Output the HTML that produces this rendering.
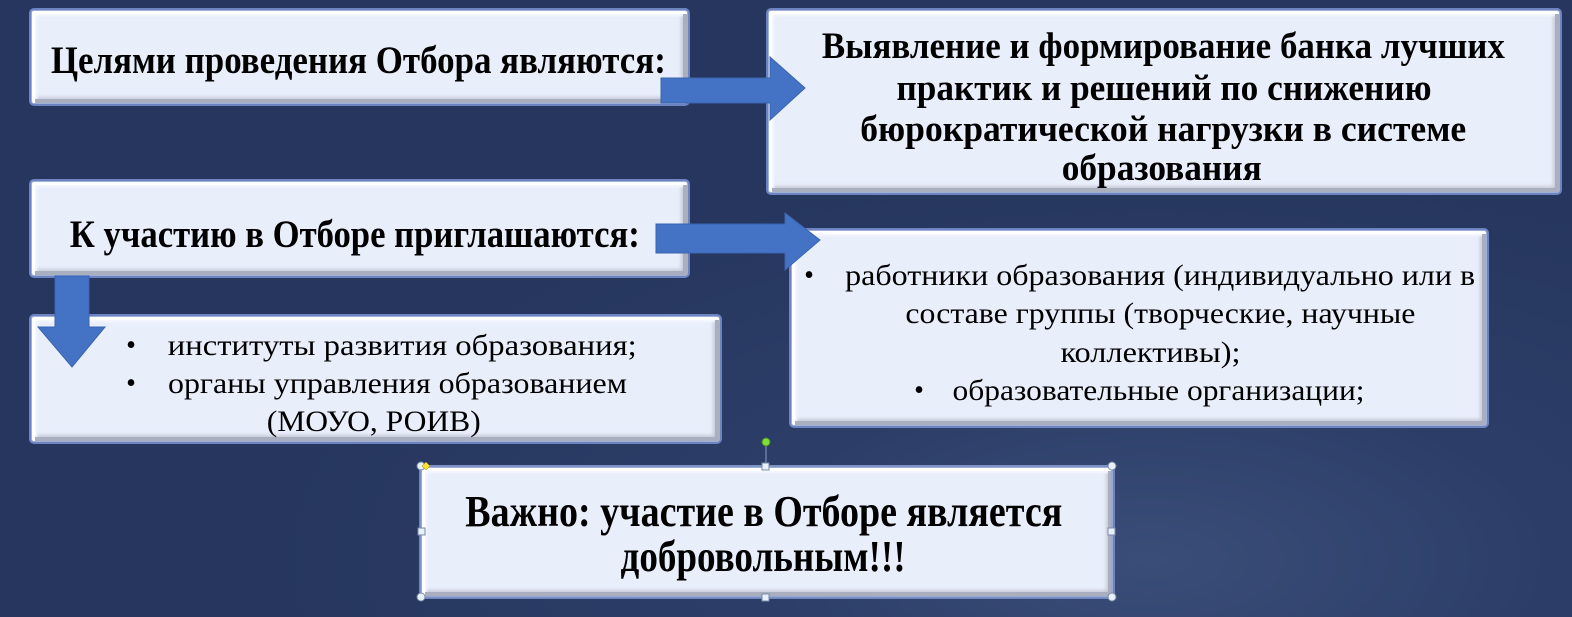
<!DOCTYPE html>
<html><head><meta charset="utf-8"><style>
html,body{margin:0;padding:0}
body{width:1572px;height:617px;position:relative;overflow:hidden;
background:radial-gradient(ellipse 900px 400px at 1150px 560px,#3a4d78 0%,#2c3e68 45%,#26365e 100%);
font-family:"Liberation Serif","DejaVu Serif",serif;color:#000}
.box{position:absolute;box-sizing:border-box;background:#e9eefb;
border:1px solid #9fb0d8;border-radius:3px;
box-shadow:inset 3px 3px 0 #fff,inset -4px -4px 0 #a9afbf,inset 5px 5px 2px #f4f7ff,inset -6px -6px 3px #c8ccd8,0 0 0 2px #6d84c0}
.t{position:absolute;white-space:nowrap;line-height:1;transform-origin:center center}
.b{font-weight:bold}
svg{position:absolute;left:0;top:0}
</style></head><body>
<div class="box" style="left:31px;top:10px;width:657px;height:94px"></div>
<div class="box" style="left:768px;top:10px;width:792px;height:183px"></div>
<div class="box" style="left:31px;top:181px;width:657px;height:95px"></div>
<div class="box" style="left:791px;top:230px;width:696px;height:196px"></div>
<div class="box" style="left:31px;top:316px;width:689px;height:126px"></div>
<div class="box" style="left:421px;top:467px;width:692px;height:130px"></div>

<div class="t b" data-cx="358" data-cy="60" data-w="615" style="font-size:39px">Целями проведения Отбора являются:</div>
<div class="t b" data-cx="1163" data-cy="46" data-w="683" style="font-size:37px">Выявление и формирование банка лучших</div>
<div class="t b" data-cx="1164" data-cy="88" data-w="535" style="font-size:37px">практик и решений по снижению</div>
<div class="t b" data-cx="1163" data-cy="129" data-w="606" style="font-size:37px">бюрократической нагрузки в системе</div>
<div class="t b" data-cx="1162" data-cy="168" data-w="200" style="font-size:37px">образования</div>
<div class="t b" data-cx="355" data-cy="234" data-w="570" style="font-size:39px">К участию в Отборе приглашаются:</div>

<div class="t" data-cx="809" data-cy="276" style="font-size:28px">•</div>
<div class="t" data-cx="1160" data-cy="276" data-w="630" style="font-size:30px">работники образования (индивидуально или в</div>
<div class="t" data-cx="1160" data-cy="314" data-w="510" style="font-size:30px">составе группы (творческие, научные</div>
<div class="t" data-cx="1150" data-cy="353" data-w="180" style="font-size:30px">коллективы);</div>
<div class="t" data-cx="919" data-cy="391" style="font-size:28px">•</div>
<div class="t" data-cx="1159" data-cy="391" data-w="412" style="font-size:30px">образовательные организации;</div>

<div class="t" data-cx="131" data-cy="346" style="font-size:28px">•</div>
<div class="t" data-cx="402" data-cy="346" data-w="469" style="font-size:30px">институты развития образования;</div>
<div class="t" data-cx="131" data-cy="384" style="font-size:28px">•</div>
<div class="t" data-cx="397" data-cy="384" data-w="459" style="font-size:30px">органы управления образованием</div>
<div class="t" data-cx="374" data-cy="422" data-w="214" style="font-size:30px">(МОУО, РОИВ)</div>

<div class="t b" data-cx="764" data-cy="512" data-w="597" style="font-size:44px">Важно: участие в Отборе является</div>
<div class="t b" data-cx="763" data-cy="557" data-w="285" style="font-size:44px">добровольным!!!</div>

<svg width="1572" height="617" viewBox="0 0 1572 617">
<polygon points="661,78 770,78 770,57 805,88 770,120 770,103 661,103" fill="#4472c4" stroke="#3a64b0" stroke-width="1"/>
<polygon points="656,224 785,224 785,213 820,240 785,270 785,253 656,253" fill="#4472c4" stroke="#3a64b0" stroke-width="1"/>
<polygon points="55,276 89,276 89,327 105,327 72,367 38,327 55,327" fill="#4472c4" stroke="#3a64b0" stroke-width="1"/>
<rect x="421" y="466" width="691" height="131" fill="none" stroke="#8aa0c8" stroke-width="1"/>
<line x1="766" y1="442" x2="766" y2="466" stroke="#8aa0c8"/>
<circle cx="766" cy="442" r="4" fill="#7ee03a" stroke="#4a8a20"/>
<g fill="#e8f0f8" stroke="#7a8aa8">
<rect x="762" y="463" width="7" height="7"/><rect x="762" y="594" width="7" height="7"/>
<rect x="418" y="528" width="7" height="7"/><rect x="1108" y="528" width="7" height="7"/>
<circle cx="421" cy="466" r="4"/><circle cx="1112" cy="466" r="4"/>
<circle cx="421" cy="597" r="4"/><circle cx="1112" cy="597" r="4"/>
</g>
<polygon points="426,462 430,466 426,470 422,466" fill="#ffe030" stroke="#a08000" stroke-width="0.5"/>
</svg>
<script>
document.querySelectorAll('.t').forEach(function(e){
 var cx=+e.dataset.cx,cy=+e.dataset.cy,w=+e.dataset.w||0;
 var r=e.getBoundingClientRect();
 var s=w?w/r.width:1;
 e.style.left=(cx-r.width/2)+'px';
 e.style.top=(cy-r.height/2)+'px';
 e.style.transform='scaleX('+s+')';
});
</script>
</body></html>
